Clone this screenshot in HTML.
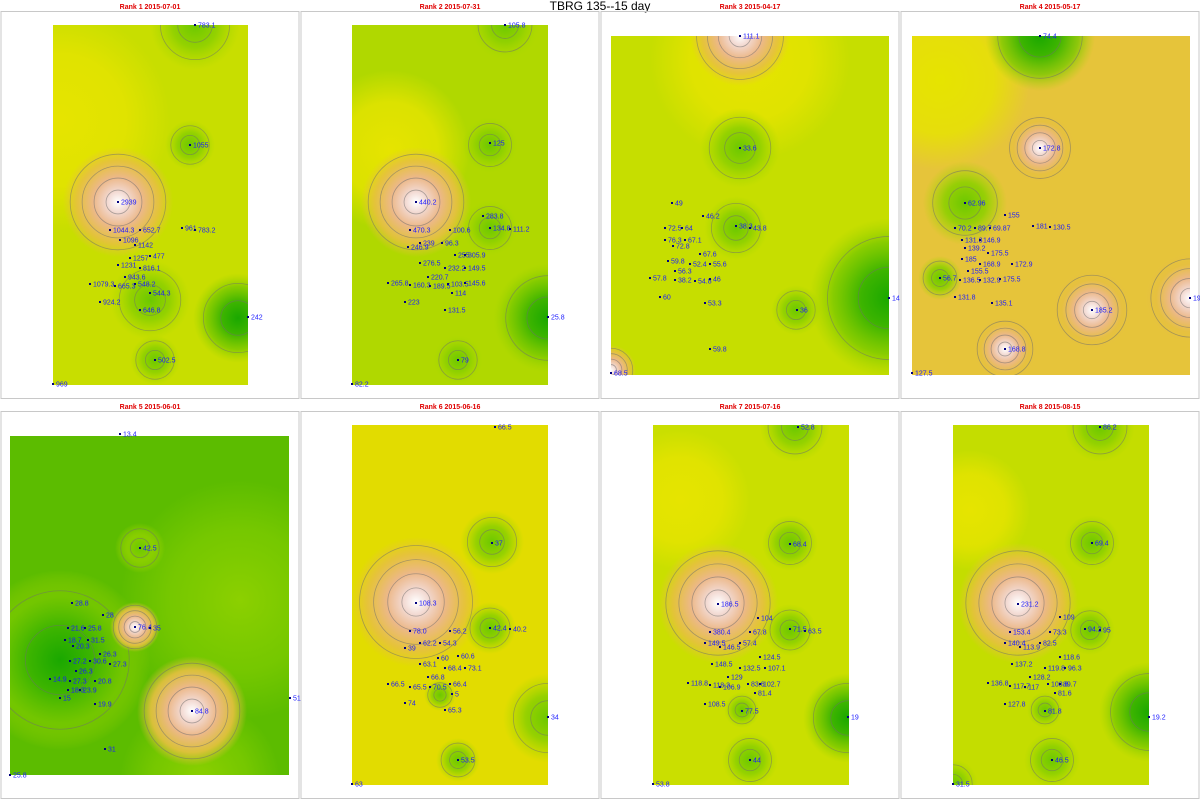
<!DOCTYPE html>
<html><head><meta charset="utf-8">
<style>
html,body{margin:0;padding:0;background:#fff;width:1200px;height:800px;overflow:hidden;}
svg{display:block;font-family:"Liberation Sans",sans-serif;}
</style></head>
<body>
<svg id="chart" width="1200" height="800" viewBox="0 0 1200 800">
<rect x="0" y="0" width="1200" height="800" fill="#fff"/>
<text x="600" y="10" text-anchor="middle" font-size="12" fill="#000">TBRG 135--15 day</text>
</svg>
<script>
// panel titles
const titles = ["Rank 1 2015-07-01","Rank 2 2015-07-31","Rank 3 2015-04-17","Rank 4 2015-05-17","Rank 5 2015-06-01","Rank 6 2015-06-16","Rank 7 2015-07-16","Rank 8 2015-08-15"];
// map extents (local station coordinate frame)
const extents = [[53,25,248,385],[52,25,248,385],[11,36,289,375],[12,36,290,375],[10,36,289,375],[52,25,248,385],[53,25,249,385],[53,25,249,385]];
const baseColors = ["#c8de00","#b0d800","#c6de00","#e6c43a","#5cbc00","#e2dc00","#cadf00","#c4dd00"];
// surface features: [x, y, radius, type]  type: h=high, g=low(green), d=deep low, y=yellow, l=light green
const features = [
 [[60,120,110,"y"],[118,202,55,"h"],[195,25,45,"g"],[238,318,45,"d"],[155,360,25,"g"],[190,145,25,"g"],[150,300,40,"g"]],
 [[90,150,80,"y"],[116,202,55,"h"],[205,25,35,"g"],[190,145,28,"g"],[190,228,28,"g"],[248,318,55,"d"],[158,360,25,"g"]],
 [[150,60,100,"y"],[140,36,50,"h"],[140,148,40,"g"],[136,228,32,"g"],[196,310,25,"g"],[289,298,80,"d"],[11,370,25,"h"]],
 [[40,80,90,"y"],[140,36,55,"d"],[65,203,42,"g"],[40,278,22,"g"],[140,148,35,"h"],[192,310,40,"h"],[105,349,32,"h"],[290,298,45,"h"]],
 [[240,200,120,"l"],[200,380,80,"l"],[60,260,90,"d"],[135,227,25,"h"],[192,311,55,"h"],[140,148,25,"g"]],
 [[116,202,65,"h"],[192,142,32,"g"],[190,228,26,"g"],[140,295,16,"g"],[248,318,45,"g"],[158,360,22,"g"]],
 [[80,100,70,"y"],[118,203,60,"h"],[195,27,35,"g"],[190,143,28,"g"],[190,230,26,"g"],[248,318,45,"d"],[142,310,18,"g"],[150,360,28,"g"]],
 [[70,110,60,"y"],[118,203,60,"h"],[200,27,35,"g"],[192,143,28,"g"],[190,230,25,"g"],[249,312,50,"d"],[145,310,18,"g"],[152,360,28,"g"],[53,384,25,"g"]]
];
// stations: [x, y, label]
const stations = [
 [[195,25,"783.1"],[190,145,"1055"],[118,202,"2939"],[110,230,"1044.3"],[140,230,"652.7"],[182,228,"961"],[195,230,"783.2"],[120,240,"1096"],[135,245,"1142"],[130,258,"1257"],[150,256,"477"],[118,265,"1231"],[140,268,"816.1"],[125,277,"943.6"],[90,284,"1079.3"],[115,286,"665.3"],[135,284,"548.2"],[150,293,"544.3"],[100,302,"924.2"],[140,310,"646.8"],[248,317,"242"],[155,360,"502.5"],[53,384,"969"]],
 [[205,25,"105.8"],[190,143,"125"],[116,202,"440.2"],[183,216,"283.8"],[110,230,"470.3"],[150,230,"100.6"],[190,228,"134.8"],[210,229,"111.2"],[120,243,"239"],[142,243,"96.3"],[108,247,"246.9"],[155,255,"255"],[165,255,"305.9"],[120,263,"276.5"],[145,268,"232.2"],[165,268,"149.5"],[128,277,"220.7"],[88,283,"265.8"],[110,285,"160.3"],[130,286,"189.5"],[148,284,"103.5"],[165,283,"145.6"],[152,293,"114"],[105,302,"223"],[145,310,"131.5"],[248,317,"25.8"],[158,360,"79"],[52,384,"82.2"]],
 [[140,36,"111.1"],[140,148,"33.6"],[72,203,"49"],[103,216,"46.2"],[136,226,"38.3"],[150,228,"43.8"],[65,228,"72.5"],[82,228,"64"],[65,240,"76.3"],[85,240,"67.1"],[73,246,"72.8"],[100,254,"67.6"],[68,261,"59.8"],[90,264,"52.4"],[110,264,"55.6"],[75,271,"56.3"],[50,278,"57.8"],[75,280,"38.2"],[95,281,"54.8"],[110,279,"46"],[60,297,"60"],[105,303,"53.3"],[197,310,"36"],[289,298,"14"],[110,349,"59.8"],[11,373,"68.5"]],
 [[140,36,"74.4"],[140,148,"172.8"],[65,203,"62.96"],[105,215,"155"],[133,226,"181"],[150,227,"130.5"],[55,228,"70.2"],[75,228,"89.7"],[90,228,"69.87"],[62,240,"131.3"],[80,240,"146.9"],[65,248,"139.2"],[88,253,"175.5"],[62,259,"185"],[80,264,"168.9"],[112,264,"172.9"],[68,271,"155.5"],[40,278,"56.7"],[60,280,"136.5"],[80,280,"132.9"],[100,279,"175.5"],[55,297,"131.8"],[92,303,"135.1"],[192,310,"185.2"],[290,298,"19"],[105,349,"168.8"],[12,373,"127.5"]],
 [[120,34,"13.4"],[140,148,"42.5"],[72,203,"28.8"],[103,215,"28"],[135,227,"76.4"],[150,228,"35"],[68,228,"21.6"],[85,228,"25.8"],[65,240,"18.7"],[88,240,"31.5"],[73,246,"20.3"],[100,254,"26.3"],[70,261,"27.2"],[90,261,"30.6"],[110,264,"27.3"],[76,271,"26.3"],[50,279,"14.9"],[70,281,"27.3"],[95,281,"20.8"],[68,290,"18.3"],[80,290,"23.9"],[60,298,"15"],[95,304,"19.9"],[192,311,"84.8"],[290,298,"51"],[105,349,"31"],[10,375,"25.8"]],
 [[195,27,"66.5"],[192,143,"37"],[116,203,"108.3"],[110,231,"78.0"],[150,231,"56.2"],[190,228,"42.4"],[210,229,"40.2"],[120,243,"62.2"],[140,243,"54.3"],[105,248,"39"],[138,258,"60"],[158,256,"60.6"],[120,264,"63.1"],[145,268,"68.4"],[165,268,"73.1"],[128,277,"66.8"],[88,284,"66.5"],[110,287,"65.5"],[130,287,"70.5"],[150,284,"66.4"],[152,294,"5"],[105,303,"74"],[145,310,"65.3"],[248,317,"34"],[158,360,"53.5"],[52,384,"63"]],
 [[198,27,"52.8"],[190,144,"68.4"],[118,204,"186.5"],[158,218,"104"],[110,232,"380.4"],[150,232,"67.8"],[190,229,"71.5"],[205,231,"63.5"],[105,243,"149.5"],[140,243,"57.4"],[120,247,"146.5"],[160,257,"124.5"],[112,264,"148.5"],[140,268,"132.5"],[165,268,"107.1"],[128,277,"129"],[88,283,"118.8"],[110,285,"118.3"],[120,287,"106.9"],[148,284,"83.6"],[160,284,"102.7"],[155,293,"81.4"],[105,304,"108.5"],[142,311,"77.5"],[248,317,"19"],[150,360,"44"],[53,384,"53.8"]],
 [[200,27,"86.2"],[192,143,"69.4"],[118,204,"231.2"],[160,217,"109"],[110,232,"153.4"],[150,232,"73.3"],[185,229,"94.2"],[200,230,"95"],[105,243,"140.4"],[140,243,"82.5"],[120,247,"113.9"],[160,257,"118.6"],[112,264,"137.2"],[145,268,"119.8"],[165,268,"96.3"],[130,277,"128.2"],[88,283,"136.8"],[110,286,"117.7"],[125,287,"117"],[148,284,"103.8"],[160,284,"89.7"],[155,293,"81.6"],[105,304,"127.8"],[145,311,"81.8"],[249,317,"19.2"],[152,360,"46.5"],[53,384,"31.5"]]
];

const NS="http://www.w3.org/2000/svg";
const svg=document.getElementById('chart');
function mk(tag,attrs,parent){const e=document.createElementNS(NS,tag);for(const k in attrs)e.setAttribute(k,attrs[k]);(parent||svg).appendChild(e);return e;}
const defs=mk('defs',{});
const stopsFor={
 h:[["0","#ffffff",1],["0.2","#f2d8d0",1],["0.45","#ecb888",1],["0.75","#e6c040",0.9],["1","#e6c040",0]],
 g:[["0","#6cc800",1],["0.5","#8ed000",0.9],["1","#a8d800",0]],
 d:[["0","#1aa800",1],["0.35","#3cb400",1],["0.7","#78c800",0.8],["1","#a0d400",0]],
 y:[["0","#e6e400",1],["0.6","#e6e400",0.8],["1","#e6e400",0]],
 l:[["0","#8cd000",1],["0.6","#80cc00",0.7],["1","#80cc00",0]]
};
for(const t in stopsFor){
 const g=mk('radialGradient',{id:'grad-'+t},defs);
 stopsFor[t].forEach(s=>mk('stop',{offset:s[0],'stop-color':s[1],'stop-opacity':s[2]},g));
}
titles.forEach((title,i)=>{
 const col=i%4,row=Math.floor(i/4);
 const ox=col*300,oy=row*400;
 const sx=x=>ox+x, sy=y=>oy+y;
 const panel=mk('g',{});
 
 
 const frame=mk('rect',{x:ox+1,y:oy+11.5,width:298,height:387,fill:'none',stroke:'#c8c8c8','stroke-width':1},panel);
 
 
 const tt=mk('text',{x:ox+150,y:oy+9,'text-anchor':'middle','font-size':7,'font-weight':'bold',fill:'#e00000'},panel);
 tt.textContent=title;
 
 
 const e=extents[i];
 const cp=mk('clipPath',{id:'clip'+i},defs);
 mk('rect',{x:sx(e[0]),y:sy(e[1]),width:e[2]-e[0],height:e[3]-e[1]},cp);
 const map=mk('g',{'clip-path':'url(#clip'+i+')'},panel);
 
 
 mk('rect',{x:sx(e[0]),y:sy(e[1]),width:e[2]-e[0],height:e[3]-e[1],fill:baseColors[i]},map);
 features[i].forEach(f=>{
  const c=mk('circle',{cx:sx(f[0]),cy:sy(f[1]),r:f[2],fill:'url(#grad-'+f[3]+')'},map);
  
  
  if(f[3]!=='y'&&f[3]!=='l'){
   const n=f[3]==='h'?4:2;
   for(let k=1;k<=n;k++){
    const ring=mk('circle',{cx:sx(f[0]),cy:sy(f[1]),r:f[2]*k/(n+0.6),fill:'none',stroke:'#6e6e6e','stroke-width':0.8,'stroke-opacity':0.55},map);
    
    
   }
  }
 });
 stations[i].forEach(s=>{
  const pt=mk('rect',{x:sx(s[0])-1,y:sy(s[1])-1,width:2,height:2,fill:'#000080'},panel);
  
  
  const lb=mk('text',{x:sx(s[0])+3,y:Math.min(sy(s[1])+2.5,797),'font-size':7,fill:'#1a1aff'},panel);
  lb.textContent=s[2];
  
  
 });
});
</script>
</body></html>
